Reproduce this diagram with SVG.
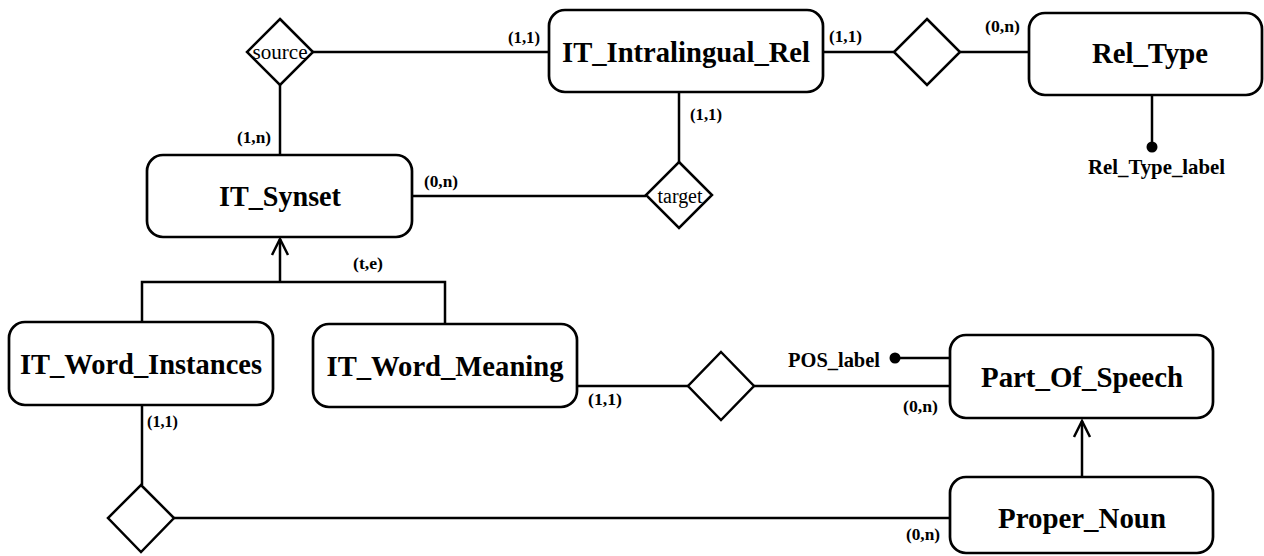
<svg xmlns="http://www.w3.org/2000/svg" width="1264" height="556" viewBox="0 0 1264 556">
  <style>
    .entity{fill:#fff;stroke:#000;stroke-width:2.7}
    .rel{fill:#fff;stroke:#000;stroke-width:2.5;stroke-linejoin:miter}
    .ln{fill:none;stroke:#000;stroke-width:2.5}
    .name{font-family:"Liberation Serif","Times New Roman",serif;font-weight:bold;font-size:30px;text-anchor:middle}
    .card{font-family:"Liberation Serif","Times New Roman",serif;font-weight:bold;font-size:17px}
    .attr{font-family:"Liberation Serif","Times New Roman",serif;font-weight:bold;font-size:21px}
    .role{font-family:"Liberation Serif","Times New Roman",serif;font-size:20px;text-anchor:middle}
  </style>
  <defs>
    <marker id="isa" viewBox="0 0 20 20" refX="18" refY="10" markerWidth="20" markerHeight="20" markerUnits="userSpaceOnUse" orient="auto">
      <path d="M2,2 L18,10 L2,18" fill="none" stroke="#000" stroke-width="2.5"/>
    </marker>
  </defs>

  <rect width="1264" height="556" fill="#fff"/>

  <!-- connectors -->
  <g id="connectors">
    <path class="ln" d="M313,52 H549"/>
    <path class="ln" d="M280,85 V155"/>
    <path class="ln" d="M823,52 H894"/>
    <path class="ln" d="M960,52 H1029"/>
    <path class="ln" d="M679,92 V162"/>
    <path class="ln" d="M412,196 H646"/>
    <path class="ln" d="M1152,95 V147"/>
    <circle cx="1152" cy="147" r="5.5" fill="#000"/>
    <path class="ln" d="M280,282 V239" marker-end="url(#isa)"/>
    <path class="ln" d="M142,322 V282 H445 V324"/>
    <path class="ln" d="M577,386 H688"/>
    <path class="ln" d="M754,386 H950"/>
    <path class="ln" d="M895,358 H950"/>
    <circle cx="895" cy="358" r="5.5" fill="#000"/>
    <path class="ln" d="M1082,477 V421" marker-end="url(#isa)"/>
    <path class="ln" d="M142,405 V485"/>
    <path class="ln" d="M174,518 H950"/>

    <text class="card" x="508" y="43" textLength="32" lengthAdjust="spacingAndGlyphs">(1,1)</text>
    <text class="card" x="829" y="42" textLength="33" lengthAdjust="spacingAndGlyphs">(1,1)</text>
    <text class="card" x="985" y="32" textLength="35" lengthAdjust="spacingAndGlyphs">(0,n)</text>
    <text class="card" x="237" y="143" textLength="34" lengthAdjust="spacingAndGlyphs">(1,n)</text>
    <text class="card" x="690" y="120" textLength="32" lengthAdjust="spacingAndGlyphs">(1,1)</text>
    <text class="card" x="424" y="187" textLength="34" lengthAdjust="spacingAndGlyphs">(0,n)</text>
    <text class="card" x="353" y="269" textLength="30" lengthAdjust="spacingAndGlyphs">(t,e)</text>
    <text class="card" x="147" y="427" textLength="31" lengthAdjust="spacingAndGlyphs">(1,1)</text>
    <text class="card" x="588" y="405" textLength="34" lengthAdjust="spacingAndGlyphs">(1,1)</text>
    <text class="card" x="903" y="412" textLength="35" lengthAdjust="spacingAndGlyphs">(0,n)</text>
    <text class="card" x="906" y="540" textLength="34" lengthAdjust="spacingAndGlyphs">(0,n)</text>
    <text class="attr" x="1088" y="174" textLength="137" lengthAdjust="spacingAndGlyphs">Rel_Type_label</text>
    <text class="attr" x="788" y="367" textLength="92" lengthAdjust="spacingAndGlyphs">POS_label</text>
  </g>

  <!-- relationships -->
  <g id="rel-source">
    <polygon class="rel" points="280,19 313,52 280,85 247,52"/>
    <text class="role" x="280" y="59" textLength="55" lengthAdjust="spacingAndGlyphs">source</text>
  </g>
  <g id="rel-type">
    <polygon class="rel" points="927,19 960,52 927,85 894,52"/>
  </g>
  <g id="rel-target">
    <polygon class="rel" points="679,162 712,195 679,228 646,195"/>
    <text class="role" x="680" y="203" textLength="45" lengthAdjust="spacingAndGlyphs">target</text>
  </g>
  <g id="rel-pos">
    <polygon class="rel" points="721,352 754,386 721,420 688,386"/>
  </g>
  <g id="rel-proper">
    <polygon class="rel" points="141,485 174,518 141,552 108,518"/>
  </g>

  <!-- entities -->
  <g id="IT_Intralingual_Rel">
    <rect class="entity" x="549" y="10" width="274" height="82" rx="16"/>
    <text class="name" x="686" y="62" textLength="248" lengthAdjust="spacingAndGlyphs">IT_Intralingual_Rel</text>
  </g>
  <g id="Rel_Type">
    <rect class="entity" x="1029" y="13" width="233" height="82" rx="16"/>
    <text class="name" x="1150" y="63" textLength="116" lengthAdjust="spacingAndGlyphs">Rel_Type</text>
  </g>
  <g id="IT_Synset">
    <rect class="entity" x="147" y="155" width="265" height="82" rx="16"/>
    <text class="name" x="280" y="206" textLength="122" lengthAdjust="spacingAndGlyphs">IT_Synset</text>
  </g>
  <g id="IT_Word_Instances">
    <rect class="entity" x="9" y="322" width="264" height="83" rx="16"/>
    <text class="name" x="141" y="374" textLength="242" lengthAdjust="spacingAndGlyphs">IT_Word_Instances</text>
  </g>
  <g id="IT_Word_Meaning">
    <rect class="entity" x="313" y="324" width="264" height="83" rx="16"/>
    <text class="name" x="445" y="376" textLength="237" lengthAdjust="spacingAndGlyphs">IT_Word_Meaning</text>
  </g>
  <g id="Part_Of_Speech">
    <rect class="entity" x="950" y="335" width="263" height="83" rx="16"/>
    <text class="name" x="1082" y="387" textLength="202" lengthAdjust="spacingAndGlyphs">Part_Of_Speech</text>
  </g>
  <g id="Proper_Noun">
    <rect class="entity" x="950" y="477" width="263" height="76" rx="16"/>
    <text class="name" x="1082" y="528" textLength="168" lengthAdjust="spacingAndGlyphs">Proper_Noun</text>
  </g>
</svg>
